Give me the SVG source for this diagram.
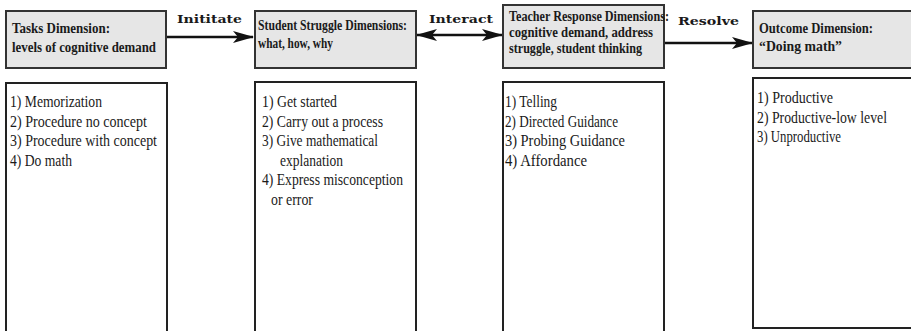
<svg xmlns="http://www.w3.org/2000/svg" width="911" height="331" viewBox="0 0 911 331">
  <style>
    .hdr { fill: #e6e6e6; stroke: #333; stroke-width: 2; }
    .lst { fill: #fff; stroke: #222; stroke-width: 2; }
    .ht { font-family: "Liberation Serif", serif; font-weight: bold; font-size: 15px; fill: #1a1a1a; }
    .bt { font-family: "Liberation Serif", serif; font-size: 16px; fill: #1a1a1a; }
    .lab { font-family: "DejaVu Serif", "Liberation Serif", serif; font-weight: bold; font-size: 11px; fill: #1a1a1a; }
    .con { stroke: #111; stroke-width: 2.5; fill: none; }
  </style>
  <defs>
    <marker id="head" markerUnits="userSpaceOnUse" markerWidth="22" markerHeight="14" refX="20" refY="7" orient="auto-start-reverse" viewBox="0 0 22 14">
      <path d="M0,1 L21,7 L0,13 L5,7 Z" fill="#111"/>
    </marker>
  </defs>

  <!-- connectors -->
  <g id="connectors">
    <line class="con" x1="167" y1="37" x2="253" y2="37" marker-end="url(#head)"/>
    <text class="lab" x="177" y="23" textLength="65" lengthAdjust="spacingAndGlyphs">Inititate</text>
    <line class="con" x1="417" y1="35" x2="502" y2="35" marker-start="url(#head)" marker-end="url(#head)"/>
    <text class="lab" x="429" y="23" textLength="64" lengthAdjust="spacingAndGlyphs">Interact</text>
    <line class="con" x1="665" y1="43" x2="752" y2="43" marker-end="url(#head)"/>
    <text class="lab" x="678" y="25" textLength="61" lengthAdjust="spacingAndGlyphs">Resolve</text>
  </g>

  <!-- Tasks dimension (header lines are drawn narrowed by 0.75 horizontally) -->
  <g id="tasks">
    <rect class="hdr" x="6" y="11" width="160" height="57"/>
    <text class="ht" transform="translate(12,33) scale(0.75,1)" textLength="130.7" lengthAdjust="spacingAndGlyphs">Tasks Dimension:</text>
    <text class="ht" transform="translate(12,51.5) scale(0.75,1)" textLength="192" lengthAdjust="spacingAndGlyphs">levels of cognitive demand</text>
  </g>
  <g id="tasks-list">
    <rect class="lst" x="6" y="83" width="161" height="260"/>
    <text class="bt" x="10" y="107" textLength="92" lengthAdjust="spacingAndGlyphs">1) Memorization</text>
    <text class="bt" x="10" y="126.5" textLength="137" lengthAdjust="spacingAndGlyphs">2) Procedure no concept</text>
    <text class="bt" x="10" y="146" textLength="147" lengthAdjust="spacingAndGlyphs">3) Procedure with concept</text>
    <text class="bt" x="10" y="165.5" textLength="62" lengthAdjust="spacingAndGlyphs">4) Do math</text>
  </g>

  <!-- Student struggle dimensions -->
  <g id="struggle">
    <rect class="hdr" x="255" y="11" width="161" height="57"/>
    <text class="ht" transform="translate(258,30) scale(0.75,1)" textLength="198.7" lengthAdjust="spacingAndGlyphs">Student Struggle Dimensions:</text>
    <text class="ht" transform="translate(258,48) scale(0.75,1)" textLength="100" lengthAdjust="spacingAndGlyphs">what, how, why</text>
  </g>
  <g id="struggle-list">
    <rect class="lst" x="255" y="82" width="161" height="260"/>
    <text class="bt" x="262" y="107" textLength="75" lengthAdjust="spacingAndGlyphs">1) Get started</text>
    <text class="bt" x="262" y="126.5" textLength="121" lengthAdjust="spacingAndGlyphs">2) Carry out a process</text>
    <text class="bt" x="262" y="146" textLength="116" lengthAdjust="spacingAndGlyphs">3) Give mathematical</text>
    <text class="bt" x="280" y="165.5" textLength="63" lengthAdjust="spacingAndGlyphs">explanation</text>
    <text class="bt" x="262" y="185" textLength="141" lengthAdjust="spacingAndGlyphs">4) Express misconception</text>
    <text class="bt" x="271" y="204.5" textLength="42" lengthAdjust="spacingAndGlyphs">or error</text>
  </g>

  <!-- Teacher response dimensions -->
  <g id="response">
    <rect class="hdr" x="503" y="5" width="161" height="63"/>
    <text class="ht" transform="translate(509,21) scale(0.75,1)" textLength="213.3" lengthAdjust="spacingAndGlyphs">Teacher Response Dimensions:</text>
    <text class="ht" transform="translate(509,37) scale(0.75,1)" textLength="192" lengthAdjust="spacingAndGlyphs">cognitive demand, address</text>
    <text class="ht" transform="translate(509,53) scale(0.75,1)" textLength="177.3" lengthAdjust="spacingAndGlyphs">struggle, student thinking</text>
  </g>
  <g id="response-list">
    <rect class="lst" x="503" y="82" width="161" height="260"/>
    <text class="bt" x="505" y="107" textLength="52" lengthAdjust="spacingAndGlyphs">1) Telling</text>
    <text class="bt" x="505" y="126.5" textLength="113" lengthAdjust="spacingAndGlyphs">2) Directed Guidance</text>
    <text class="bt" x="505" y="146" textLength="120" lengthAdjust="spacingAndGlyphs">3) Probing Guidance</text>
    <text class="bt" x="505" y="165.5" textLength="82" lengthAdjust="spacingAndGlyphs">4) Affordance</text>
  </g>

  <!-- Outcome dimension -->
  <g id="outcome">
    <rect class="hdr" x="753" y="11" width="165" height="57"/>
    <text class="ht" transform="translate(759,33) scale(0.75,1)" textLength="152" lengthAdjust="spacingAndGlyphs">Outcome Dimension:</text>
    <text class="ht" transform="translate(759,51) scale(0.75,1)" textLength="110.7" lengthAdjust="spacingAndGlyphs">“Doing math”</text>
  </g>
  <g id="outcome-list">
    <rect class="lst" x="753" y="78" width="165" height="250"/>
    <text class="bt" x="757" y="103" textLength="76" lengthAdjust="spacingAndGlyphs">1) Productive</text>
    <text class="bt" x="757" y="122.5" textLength="130" lengthAdjust="spacingAndGlyphs">2) Productive-low level</text>
    <text class="bt" x="757" y="142" textLength="84" lengthAdjust="spacingAndGlyphs">3) Unproductive</text>
  </g>
</svg>
